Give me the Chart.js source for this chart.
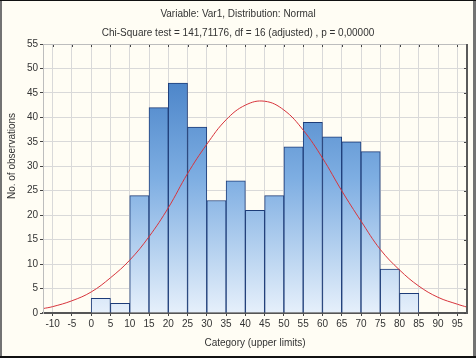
<!DOCTYPE html>
<html lang="en">
<head>
  <meta charset="UTF-8" />
  <title>Histogram Var1</title>
  <script src="https://cdn.jsdelivr.net/npm/chart.js"></script>
  <style>
    html, body { margin: 0; padding: 0; background: #fffdf4; }
    canvas { display: block; }
  </style>
</head>
<body>
  <canvas id="histChart" width="476" height="358"></canvas>

  <script>
    // bins are 5 wide, value = observations in (upper-5, upper]
    const binCenters = [2.5, 7.5, 12.5, 17.5, 22.5, 27.5, 32.5, 37.5, 42.5, 47.5, 52.5, 57.5, 62.5, 67.5, 72.5, 77.5, 82.5];
    const binCounts  = [3, 2, 24, 42, 47, 38, 23, 27, 21, 24, 34, 39, 36, 35, 33, 9, 4];

    // expected normal curve
    const curveX = [-12.5, -10, -5, 0, 5, 10, 15, 20, 25, 30, 35, 40, 45, 50, 55, 60, 65, 70, 75, 80, 85, 90, 95, 97.5];
    const curveY = [0.9, 1.3, 2.5, 4.3, 7.2, 10.8, 15.6, 21.5, 28.5, 34.5, 39.5, 42.5, 43.3, 41.5, 37.4, 31.7, 25, 18.8, 13, 8.8, 5.5, 3.2, 1.8, 1.2];

    const xTicks = [-10, -5, 0, 5, 10, 15, 20, 25, 30, 35, 40, 45, 50, 55, 60, 65, 70, 75, 80, 85, 90, 95];

    const FONT = "'Liberation Sans', Arial, sans-serif";
    const TXT = "#333333";

    const frame = {
      id: "frame",
      beforeDraw(chart) {
        const { ctx, width, height } = chart;
        ctx.save();
        ctx.fillStyle = "#fffdf4";
        ctx.fillRect(0, 0, width, height);
        ctx.restore();
      },
      afterDraw(chart) {
        const { ctx, width, height, chartArea: a, scales } = chart;
        ctx.save();
        // inside ticks on top and right edges
        ctx.strokeStyle = "#444";
        ctx.lineWidth = 1;
        ctx.beginPath();
        xTicks.forEach(v => {
          const px = Math.round(scales.x.getPixelForValue(v)) + 0.5;
          ctx.moveTo(px, a.top); ctx.lineTo(px, a.top + 3);
        });
        for (let v = 0; v <= 55; v += 5) {
          const py = Math.round(scales.y.getPixelForValue(v)) + 0.5;
          ctx.moveTo(a.right, py); ctx.lineTo(a.right - 3, py);
        }
        ctx.stroke();
        // plot box: light top/left, dark right
        ctx.strokeStyle = "#bdbdbd";
        ctx.beginPath();
        ctx.moveTo(a.left + 0.5, a.bottom); ctx.lineTo(a.left + 0.5, a.top + 0.5); ctx.lineTo(a.right, a.top + 0.5);
        ctx.stroke();
        ctx.fillStyle = "#5a5a5a";
        ctx.fillRect(a.right - 1, a.top, 2, a.bottom - a.top + 1);
        // y title
        ctx.fillStyle = TXT;
        ctx.font = "10px " + FONT;
        ctx.textAlign = "center";
        ctx.textBaseline = "middle";
        ctx.translate(12, 156);
        ctx.rotate(-Math.PI / 2);
        ctx.fillText("No. of observations", 0, 0);
        ctx.setTransform(1, 0, 0, 1, 0, 0);
        // window frame
        ctx.fillStyle = "#737373";
        ctx.fillRect(0, 0, 2, height);
        ctx.fillRect(width - 3, 0, 3, height);
        ctx.fillStyle = "#111";
        ctx.fillRect(0, 0, width, 1);
        ctx.fillRect(0, height - 2, width, 2);
        ctx.restore();
      }
    };

    const barFill = (context) => {
      const { ctx, chartArea } = context.chart;
      if (!chartArea) return "#6fa3dc";
      const g = ctx.createLinearGradient(0, chartArea.top, 0, chartArea.bottom);
      g.addColorStop(0, "#3a76c0");
      g.addColorStop(0.5, "#7eaee2");
      g.addColorStop(1, "#e6f0fb");
      return g;
    };

    new Chart(document.getElementById("histChart"), {
      type: "bar",
      data: {
        datasets: [
          {
            type: "line",
            label: "Normal",
            data: curveX.map((x, i) => ({ x, y: curveY[i] })),
            borderColor: "#d8343c",
            borderWidth: 1,
            pointRadius: 0,
            tension: 0.4,
            fill: false,
            order: 0
          },
          {
            type: "bar",
            label: "Var1",
            data: binCenters.map((x, i) => ({ x, y: binCounts[i] })),
            backgroundColor: barFill,
            borderColor: "#1d3c78",
            borderWidth: 1,
            barPercentage: 1,
            categoryPercentage: 1,
            order: 1
          }
        ]
      },
      options: {
        responsive: false,
        animation: false,
        layout: { padding: { left: 9, right: 9, top: 0, bottom: 0 } },
        plugins: {
          legend: { display: false },
          tooltip: { enabled: false },
          title: {
            display: true,
            text: "Variable: Var1, Distribution: Normal",
            color: TXT,
            font: { family: FONT, size: 10, weight: "normal", lineHeight: 1.2 },
            padding: { top: 8, bottom: 3 }
          },
          subtitle: {
            display: true,
            text: "Chi-Square test = 141,71176, df = 16 (adjusted) , p = 0,00000",
            color: TXT,
            font: { family: FONT, size: 10, lineHeight: 1.2 },
            padding: { top: 4, bottom: 5 }
          }
        },
        scales: {
          x: {
            type: "linear",
            min: -12.5,
            max: 97.5,
            offset: false,
            afterBuildTicks: (s) => { s.ticks = xTicks.map(v => ({ value: v })); },
            afterFit: (s) => { s.height = 45; },
            grid: { offset: false, color: "#d9d9d9", tickColor: "#444", tickLength: 3 },
            border: { color: "#555", width: 2 },
            ticks: { color: TXT, font: { family: FONT, size: 10 }, padding: 2, maxRotation: 0, autoSkip: false },
            title: {
              display: true,
              text: "Category (upper limits)",
              color: TXT,
              font: { family: FONT, size: 10, lineHeight: 1.2 },
              padding: { top: 0, bottom: 9 }
            }
          },
          y: {
            min: 0,
            max: 55,
            afterFit: (s) => { s.width = 34; },
            grid: { color: "#d9d9d9", tickColor: "#444", tickLength: 3 },
            border: { color: "#bdbdbd", width: 1 },
            ticks: { stepSize: 5, color: TXT, font: { family: FONT, size: 10 }, padding: 2 }
          }
        }
      },
      plugins: [frame]
    });
  </script>
</body>
</html>
